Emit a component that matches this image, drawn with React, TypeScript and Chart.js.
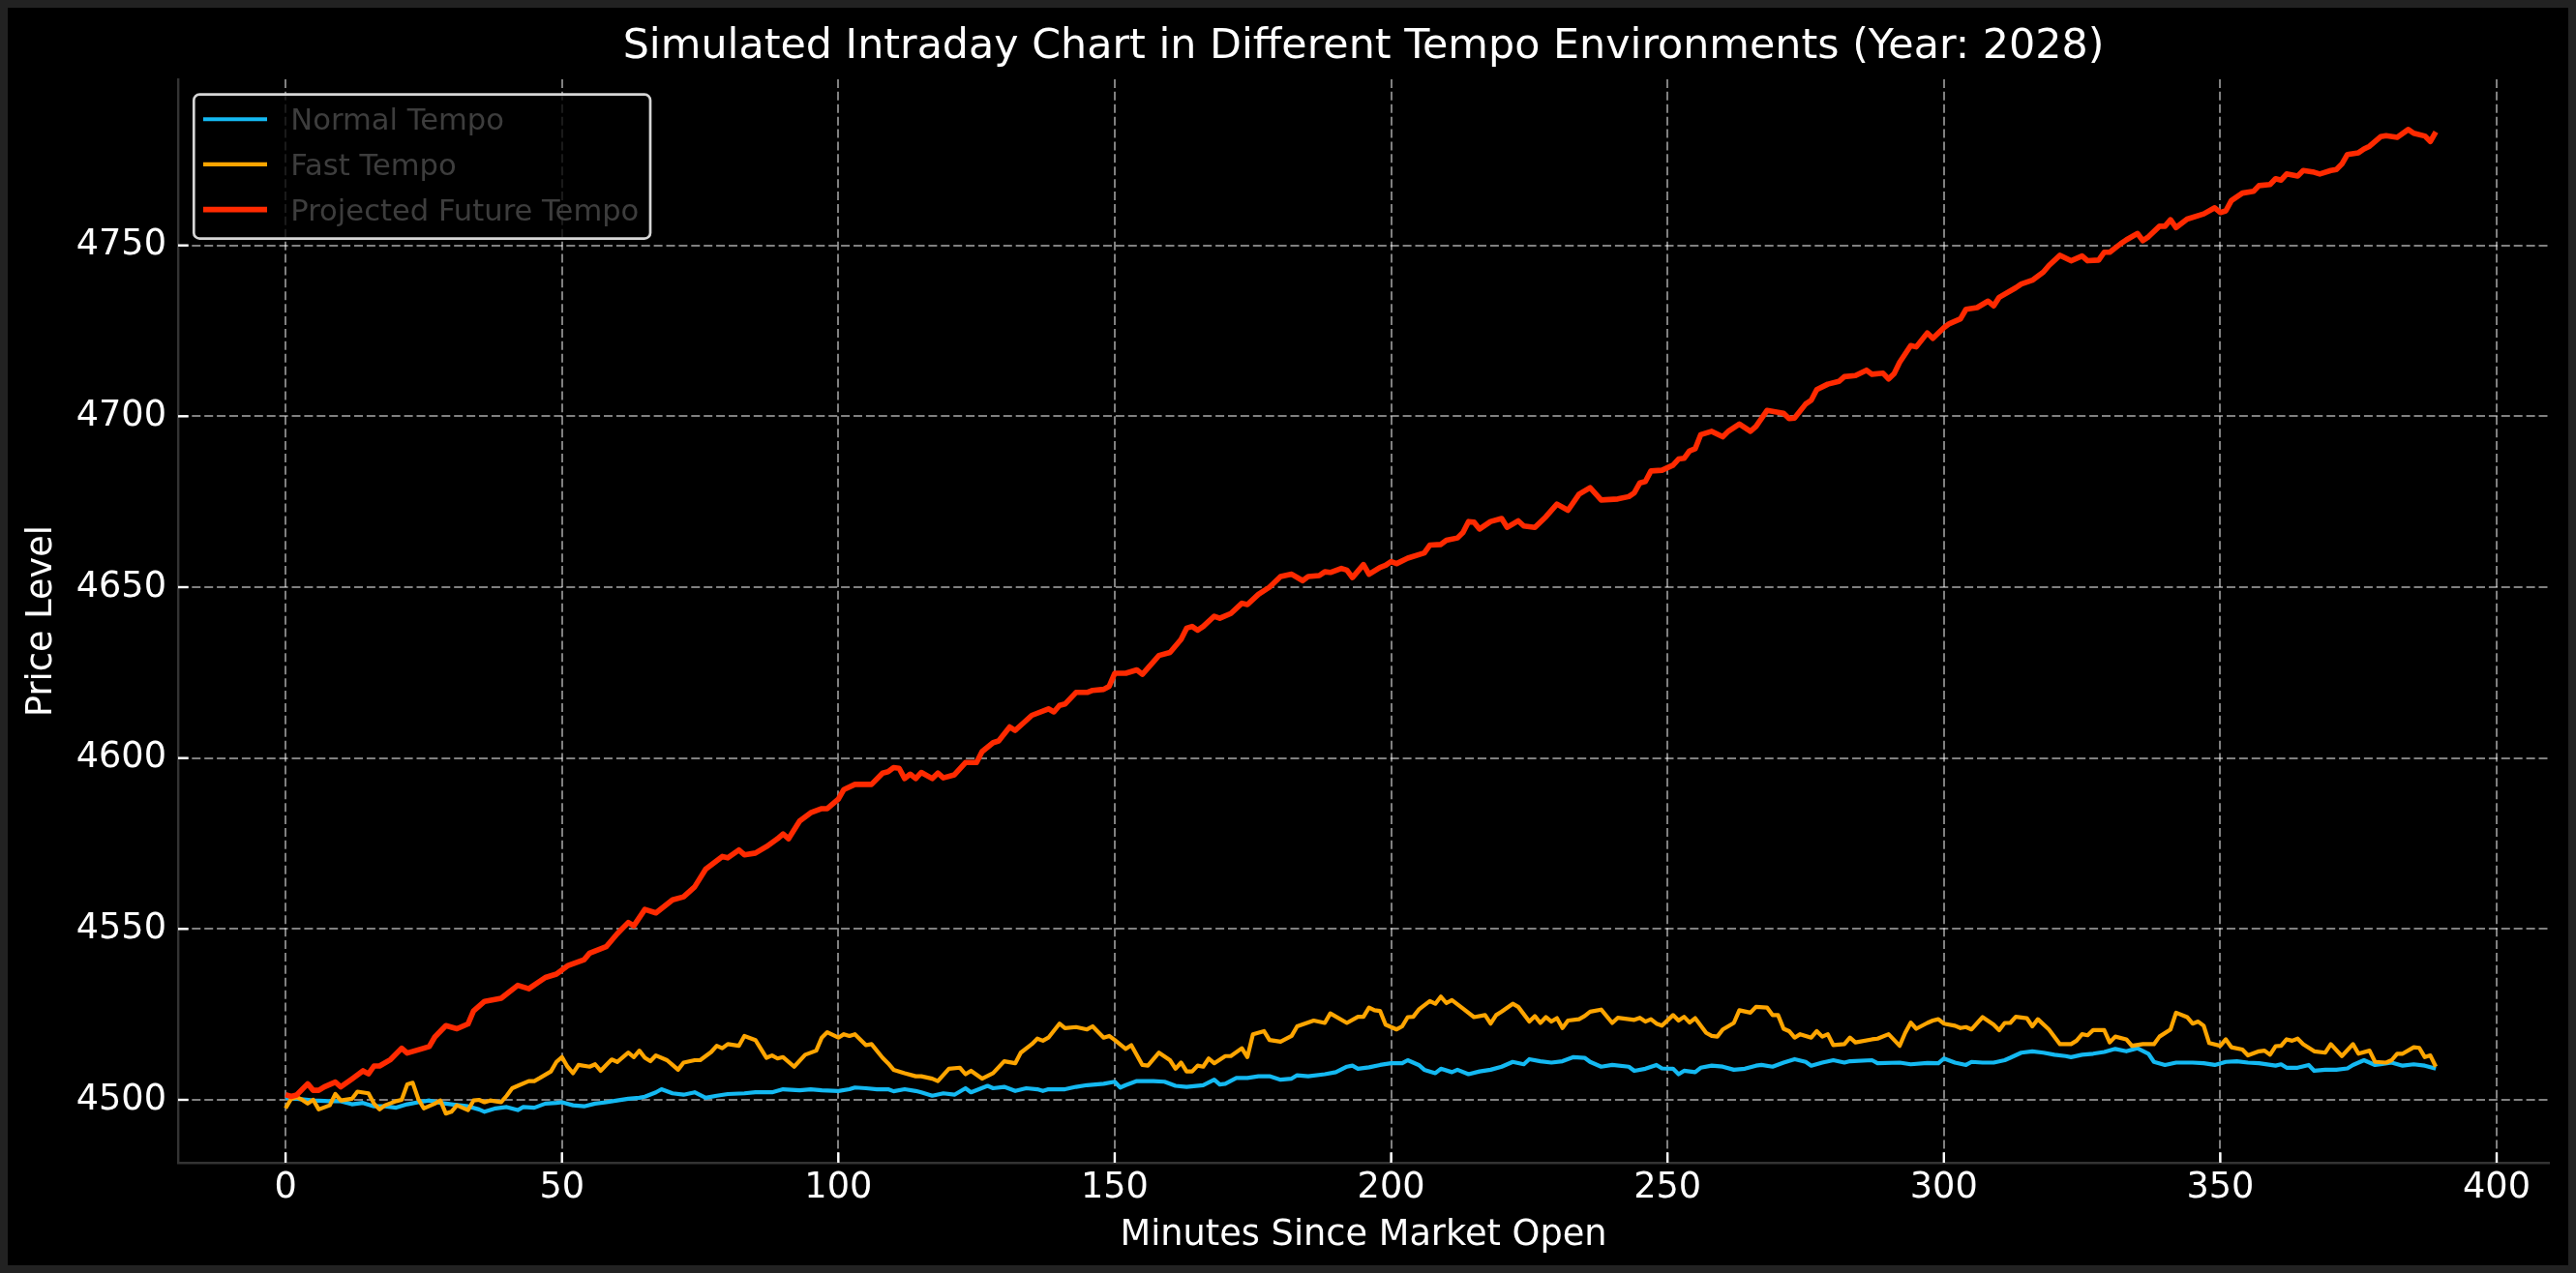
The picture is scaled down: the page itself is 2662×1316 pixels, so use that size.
import React, { useEffect, useRef } from "react";
import { Chart, registerables } from "chart.js";

Chart.register(...registerables);

const chartTitle = "Simulated Intraday Chart in Different Tempo Environments (Year: 2028)";
const xAxisTitle = "Minutes Since Market Open";
const yAxisTitle = "Price Level";
const seriesLabels = ["Normal Tempo", "Fast Tempo", "Projected Future Tempo"];
const seriesColors = ["#14b9f2", "#ffa500", "#ff2a00"];
const xTickValues = [0, 50, 100, 150, 200, 250, 300, 350, 400];
const yTickValues = [4500, 4550, 4600, 4650, 4700, 4750];
const xRange = [-19.45, 409.45];
const yRange = [4481.6, 4798.6];

// [minute, price]
const normalTempo: number[][] = [
  [0, 4500.6], [2, 4500.3], [5, 4499.8], [8, 4499.6], [10, 4499.6], [12, 4498.7], [14, 4499.1],
  [16, 4498.1], [18, 4498.1], [20, 4497.7], [22, 4498.7], [24, 4499.3], [26, 4499.8], [28, 4499.1],
  [30, 4498.7], [33, 4498.1], [35, 4497.2], [36, 4496.5], [38, 4497.5], [40, 4497.9], [42, 4497.0],
  [43, 4497.9], [45, 4497.7], [47, 4498.9], [49, 4499.1], [50, 4499.3], [52, 4498.4], [54, 4498.1],
  [56, 4498.9], [58, 4499.3], [60, 4499.8], [62, 4500.3], [64, 4500.6], [65, 4500.9], [67, 4502.2],
  [68, 4503.1], [70, 4501.9], [72, 4501.5], [74, 4502.2], [76, 4500.6], [78, 4501.2], [80, 4501.7],
  [83, 4501.9], [85, 4502.2], [88, 4502.2], [90, 4503.1], [93, 4502.8], [95, 4503.1], [97, 4502.8],
  [100, 4502.6], [102, 4503.1], [103, 4503.6], [105, 4503.4], [107, 4503.1], [109, 4503.1], [110, 4502.5],
  [112, 4503.1], [114, 4502.6], [115, 4502.2], [117, 4501.2], [119, 4501.9], [121, 4501.5], [123, 4503.4],
  [124, 4502.2], [127, 4504.1], [128, 4503.4], [130, 4503.8], [132, 4502.6], [134, 4503.4], [136, 4503.1],
  [137, 4502.6], [138, 4503.1], [141, 4503.1], [143, 4503.8], [145, 4504.3], [148, 4504.7], [150, 4505.3],
  [151, 4503.6], [152, 4504.3], [154, 4505.5], [157, 4505.5], [159, 4505.3], [161, 4504.1], [163, 4503.8],
  [166, 4504.3], [168, 4505.9], [169, 4504.5], [170, 4504.7], [172, 4506.4], [174, 4506.4], [176, 4506.9],
  [178, 4506.9], [180, 4505.9], [182, 4506.2], [183, 4507.2], [185, 4506.9], [188, 4507.5], [190, 4508.1],
  [192, 4509.7], [193, 4510.0], [194, 4509.1], [196, 4509.5], [198, 4510.2], [200, 4510.7], [202, 4510.7],
  [203, 4511.6], [205, 4510.2], [206, 4508.8], [208, 4507.8], [209, 4509.1], [211, 4508.1], [212, 4508.8],
  [214, 4507.5], [216, 4508.3], [218, 4508.8], [220, 4509.7], [221, 4510.4], [222, 4511.1], [224, 4510.4],
  [225, 4511.9], [227, 4511.3], [229, 4510.9], [231, 4511.3], [233, 4512.5], [235, 4512.3], [236, 4511.1],
  [238, 4509.7], [240, 4510.2], [243, 4509.7], [244, 4508.5], [246, 4509.1], [248, 4510.2], [249, 4509.2],
  [251, 4509.1], [252, 4507.5], [253, 4508.5], [255, 4508.1], [256, 4509.4], [258, 4510.0], [260, 4509.7],
  [262, 4508.8], [264, 4509.1], [266, 4510.0], [267, 4510.2], [269, 4509.7], [271, 4510.9], [273, 4511.9],
  [275, 4511.1], [276, 4510.0], [278, 4510.9], [280, 4511.6], [282, 4510.9], [283, 4511.3], [287, 4511.6],
  [288, 4510.7], [292, 4510.9], [294, 4510.4], [297, 4510.8], [299, 4510.7], [300, 4512.1], [302, 4510.9],
  [304, 4510.2], [305, 4511.1], [307, 4510.9], [309, 4510.9], [311, 4511.6], [312, 4512.3], [314, 4513.8],
  [316, 4514.2], [318, 4513.8], [320, 4513.2], [322, 4512.8], [323, 4512.5], [325, 4513.2], [327, 4513.5],
  [329, 4514.0], [331, 4514.9], [333, 4514.2], [335, 4515.1], [337, 4513.5], [338, 4511.1], [340, 4510.2],
  [342, 4510.9], [345, 4510.9], [347, 4510.7], [349, 4510.2], [351, 4511.1], [353, 4511.3], [355, 4510.9],
  [357, 4510.7], [360, 4510.0], [361, 4510.4], [362, 4509.4], [364, 4509.4], [366, 4510.2], [367, 4508.5],
  [369, 4508.8], [371, 4508.8], [373, 4509.2], [374, 4510.2], [376, 4511.6], [378, 4510.2], [379, 4510.4],
  [381, 4510.9], [383, 4510.0], [385, 4510.4], [387, 4510.0], [389, 4509.1],
];

const fastTempo: number[][] = [
  [0, 4497.5], [1, 4500.3], [2, 4500.8], [3, 4500.0], [4, 4498.9], [5, 4500.0], [6, 4497.2], [8, 4498.4],
  [9, 4501.7], [10, 4499.8], [12, 4500.3], [13, 4502.4], [15, 4501.9], [16, 4498.9], [17, 4497.2],
  [18, 4498.4], [20, 4499.6], [21, 4500.0], [22, 4504.5], [23, 4505.0], [24, 4500.3], [25, 4497.5],
  [27, 4498.9], [28, 4499.8], [29, 4496.0], [30, 4496.5], [31, 4498.4], [33, 4497.0], [34, 4499.8],
  [35, 4500.0], [36, 4499.3], [37, 4499.8], [39, 4499.3], [40, 4501.2], [41, 4503.4], [42, 4504.1],
  [44, 4505.5], [45, 4505.5], [46, 4506.4], [48, 4508.3], [49, 4511.1], [50, 4512.5], [51, 4509.7],
  [52, 4507.8], [53, 4510.2], [55, 4509.7], [56, 4510.4], [57, 4508.5], [58, 4510.2], [59, 4511.8],
  [60, 4511.1], [62, 4513.8], [63, 4512.5], [64, 4514.4], [65, 4512.3], [66, 4511.3], [67, 4513.0],
  [69, 4511.6], [70, 4510.2], [71, 4508.8], [72, 4510.9], [74, 4511.6], [75, 4511.6], [77, 4514.0],
  [78, 4515.8], [79, 4515.1], [80, 4516.3], [82, 4515.8], [83, 4518.7], [85, 4517.5], [87, 4512.3],
  [88, 4513.0], [89, 4512.1], [90, 4512.5], [92, 4509.7], [94, 4513.2], [96, 4514.4], [97, 4518.2],
  [98, 4519.8], [100, 4518.2], [101, 4519.2], [102, 4518.7], [103, 4519.2], [105, 4516.0], [106, 4516.3],
  [108, 4512.3], [109, 4510.7], [110, 4508.8], [112, 4507.8], [114, 4506.9], [115, 4506.9], [117, 4506.2],
  [118, 4505.5], [120, 4509.1], [122, 4509.4], [123, 4507.5], [124, 4508.5], [126, 4506.2], [128, 4507.8],
  [130, 4511.3], [132, 4510.7], [133, 4513.8], [135, 4516.3], [136, 4517.9], [137, 4517.3], [138, 4518.2],
  [140, 4522.3], [141, 4521.0], [143, 4521.3], [145, 4520.6], [146, 4521.5], [148, 4518.2], [149, 4518.7],
  [150, 4517.5], [152, 4514.9], [153, 4516.0], [155, 4510.2], [156, 4510.0], [158, 4513.8], [160, 4511.6],
  [161, 4509.1], [162, 4510.9], [163, 4508.3], [164, 4508.3], [165, 4510.0], [166, 4509.7], [167, 4512.1],
  [168, 4510.7], [170, 4512.8], [171, 4512.8], [173, 4515.1], [174, 4512.5], [175, 4519.2], [177, 4520.1],
  [178, 4517.5], [180, 4517.0], [182, 4518.7], [183, 4521.5], [186, 4523.2], [188, 4522.5], [189, 4525.3],
  [192, 4522.5], [194, 4524.3], [195, 4524.3], [196, 4527.0], [197, 4526.2], [198, 4526.0], [199, 4522.0],
  [201, 4520.6], [202, 4521.5], [203, 4524.2], [204, 4524.3], [205, 4526.4], [207, 4528.9], [208, 4528.1],
  [209, 4530.2], [210, 4528.3], [211, 4529.2], [213, 4526.7], [215, 4524.2], [217, 4524.8], [218, 4522.3],
  [219, 4524.8], [220, 4525.8], [222, 4528.1], [223, 4527.2], [225, 4522.9], [226, 4524.5], [227, 4522.5],
  [228, 4524.2], [229, 4522.9], [230, 4523.9], [231, 4521.0], [232, 4523.2], [234, 4523.6], [235, 4524.5],
  [236, 4525.8], [238, 4526.4], [240, 4522.5], [241, 4524.0], [244, 4523.4], [245, 4524.0], [246, 4522.9],
  [247, 4523.6], [248, 4522.3], [249, 4521.7], [251, 4524.8], [252, 4523.2], [253, 4524.3], [254, 4522.6],
  [255, 4523.9], [257, 4519.6], [258, 4518.7], [259, 4518.5], [260, 4520.6], [262, 4522.5], [263, 4526.2],
  [265, 4525.5], [266, 4527.2], [268, 4527.0], [269, 4524.8], [270, 4524.8], [271, 4520.8], [272, 4520.1],
  [273, 4518.2], [274, 4519.2], [276, 4518.2], [277, 4520.1], [278, 4518.5], [279, 4519.2], [280, 4516.0],
  [282, 4516.3], [283, 4518.2], [284, 4516.8], [287, 4517.7], [288, 4517.9], [290, 4519.2], [292, 4515.8],
  [293, 4519.6], [294, 4522.6], [295, 4520.8], [297, 4522.5], [298, 4523.2], [299, 4523.6], [300, 4522.3],
  [302, 4521.7], [303, 4521.0], [304, 4521.3], [305, 4520.6], [307, 4524.2], [309, 4522.0], [310, 4520.4],
  [311, 4522.5], [312, 4522.5], [313, 4524.3], [315, 4523.9], [316, 4521.5], [317, 4523.6], [319, 4520.6],
  [321, 4516.3], [323, 4516.3], [324, 4517.3], [325, 4519.2], [326, 4518.9], [327, 4520.4], [329, 4520.4],
  [330, 4516.8], [331, 4518.5], [333, 4517.7], [334, 4515.8], [336, 4516.3], [338, 4516.3], [339, 4518.5],
  [341, 4520.6], [342, 4525.5], [344, 4524.2], [345, 4522.3], [346, 4522.9], [347, 4521.7], [348, 4516.6],
  [350, 4515.8], [351, 4517.7], [352, 4515.4], [354, 4514.7], [355, 4513.0], [357, 4514.2], [358, 4514.4],
  [359, 4513.2], [360, 4515.7], [361, 4515.8], [362, 4517.7], [363, 4517.3], [364, 4517.9], [365, 4516.3],
  [367, 4514.2], [369, 4513.8], [370, 4516.3], [372, 4512.8], [374, 4516.3], [375, 4513.5], [377, 4514.4],
  [378, 4511.1], [380, 4510.9], [381, 4511.6], [382, 4513.5], [383, 4513.5], [385, 4515.4], [386, 4515.2],
  [387, 4512.5], [388, 4513.0], [389, 4509.7],
];

const futureTempo: number[][] = [
  [0, 4501.5], [1, 4501.0], [2, 4501.4], [4, 4504.7], [5, 4502.8], [6, 4502.8], [7, 4503.8], [9, 4505.2],
  [10, 4503.8], [12, 4506.1], [14, 4508.5], [15, 4507.6], [16, 4509.9], [17, 4509.9], [19, 4511.8],
  [21, 4515.1], [22, 4513.7], [25, 4515.1], [26, 4515.6], [27, 4518.4], [29, 4521.7], [31, 4520.8],
  [33, 4522.2], [34, 4526.0], [36, 4528.8], [39, 4529.7], [42, 4533.5], [44, 4532.5], [47, 4535.8],
  [49, 4536.8], [51, 4539.2], [54, 4541.0], [55, 4542.9], [58, 4544.8], [60, 4548.6], [62, 4551.9],
  [63, 4550.9], [65, 4555.7], [67, 4554.7], [70, 4558.5], [72, 4559.4], [74, 4562.3], [76, 4567.5],
  [79, 4571.2], [80, 4570.8], [82, 4573.1], [83, 4571.7], [85, 4572.2], [87, 4574.1], [89, 4576.4],
  [90, 4577.8], [91, 4576.4], [93, 4581.6], [95, 4584.0], [97, 4585.2], [98, 4585.2], [100, 4588.0],
  [101, 4590.8], [103, 4592.3], [106, 4592.3], [108, 4595.6], [109, 4596.0], [110, 4597.2], [111, 4597.0],
  [112, 4594.0], [113, 4595.3], [114, 4594.0], [115, 4595.8], [117, 4594.0], [118, 4595.6], [119, 4594.2],
  [121, 4595.1], [123, 4598.7], [125, 4598.7], [126, 4601.9], [128, 4604.5], [129, 4605.0], [131, 4609.1],
  [132, 4608.1], [135, 4612.5], [138, 4614.4], [139, 4613.5], [140, 4615.4], [141, 4615.8], [143, 4619.2],
  [145, 4619.2], [146, 4619.8], [148, 4620.1], [149, 4621.0], [150, 4624.8], [152, 4624.8], [154, 4625.8],
  [155, 4624.5], [158, 4630.0], [160, 4630.9], [161, 4632.8], [162, 4634.7], [163, 4638.0], [164, 4638.5],
  [165, 4637.4], [166, 4638.5], [168, 4641.5], [169, 4640.9], [171, 4642.3], [173, 4645.3], [174, 4644.9],
  [176, 4647.9], [178, 4650.0], [180, 4653.1], [182, 4653.8], [184, 4651.9], [185, 4653.1], [187, 4653.4],
  [188, 4654.5], [189, 4654.3], [191, 4655.5], [192, 4655.0], [193, 4652.8], [195, 4656.6], [196, 4653.8],
  [198, 4655.8], [199, 4656.4], [200, 4657.5], [201, 4656.9], [203, 4658.5], [206, 4660.0], [207, 4662.3],
  [209, 4662.5], [210, 4663.7], [212, 4664.4], [213, 4666.0], [214, 4669.2], [215, 4669.0], [216, 4667.0],
  [218, 4669.2], [220, 4670.1], [221, 4667.5], [223, 4669.4], [224, 4667.9], [226, 4667.5], [228, 4670.6],
  [230, 4674.3], [232, 4672.5], [234, 4677.2], [236, 4679.1], [238, 4675.5], [241, 4675.8], [243, 4676.5],
  [244, 4677.6], [245, 4680.5], [246, 4680.9], [247, 4684.0], [249, 4684.2], [251, 4685.7], [252, 4687.5],
  [253, 4687.7], [254, 4689.9], [255, 4690.5], [256, 4694.6], [258, 4695.6], [260, 4694.0], [261, 4695.6],
  [263, 4697.7], [265, 4695.6], [266, 4697.0], [268, 4701.7], [271, 4700.9], [272, 4699.3], [273, 4699.5],
  [275, 4703.6], [276, 4704.7], [277, 4707.8], [279, 4709.4], [281, 4710.2], [282, 4711.6], [284, 4711.9],
  [286, 4713.5], [287, 4712.3], [289, 4712.6], [290, 4710.9], [291, 4712.5], [292, 4715.8], [294, 4720.7],
  [295, 4720.3], [297, 4724.4], [298, 4722.8], [300, 4725.9], [301, 4727.1], [303, 4728.5], [304, 4731.3],
  [306, 4731.8], [308, 4733.7], [309, 4732.3], [310, 4734.8], [313, 4737.6], [314, 4738.7], [316, 4739.8],
  [318, 4742.2], [319, 4744.1], [321, 4747.1], [323, 4745.5], [325, 4746.9], [326, 4745.5], [328, 4745.7],
  [329, 4748.0], [330, 4748.0], [332, 4750.5], [333, 4751.6], [335, 4753.5], [336, 4751.4], [337, 4752.5],
  [339, 4755.6], [340, 4755.6], [341, 4757.5], [342, 4755.2], [344, 4757.7], [347, 4759.2], [349, 4761.0],
  [350, 4759.6], [351, 4760.1], [352, 4763.1], [354, 4765.3], [356, 4765.8], [357, 4767.5], [359, 4767.8],
  [360, 4769.5], [361, 4769.1], [362, 4770.9], [364, 4770.3], [365, 4771.9], [367, 4771.4], [368, 4770.9],
  [370, 4771.9], [371, 4772.2], [372, 4773.8], [373, 4776.6], [375, 4777.1], [376, 4778.2], [377, 4779.0],
  [379, 4781.8], [380, 4782.1], [382, 4781.6], [384, 4783.9], [385, 4782.8], [387, 4782.0], [388, 4780.4],
  [389, 4783.2],
];

const FONT = "'DejaVu Sans', sans-serif";
const CANVAS_W = 2646;
const CANVAS_H = 1300;

const toPoints = (arr: number[][]) => arr.map(([x, y]) => ({ x, y }));

const decorPlugin = {
  id: "decor",
  afterDatasetsDraw(chart: any) {
    const { ctx, chartArea, scales } = chart;
    ctx.save();
    ctx.setLineDash([]);
    ctx.strokeStyle = "#ffffff";
    ctx.lineWidth = 2.4;
    const len = 10.7;
    xTickValues.forEach((v) => {
      const x = scales.x.getPixelForValue(v);
      ctx.beginPath();
      ctx.moveTo(x, chartArea.bottom);
      ctx.lineTo(x, chartArea.bottom - len);
      ctx.stroke();
    });
    yTickValues.forEach((v) => {
      const y = scales.y.getPixelForValue(v);
      ctx.beginPath();
      ctx.moveTo(chartArea.left, y);
      ctx.lineTo(chartArea.left + len, y);
      ctx.stroke();
    });
    ctx.restore();
  },
  afterDraw(chart: any) {
    const { ctx, chartArea } = chart;
    const bx = chartArea.left + 16.3;
    const by = chartArea.top + 15.7;
    const bw = 471.7;
    const bh = 149;
    ctx.save();
    ctx.setLineDash([]);
    ctx.beginPath();
    ctx.roundRect(bx, by, bw, bh, 6);
    ctx.fillStyle = "rgba(0,0,0,0.8)";
    ctx.fill();
    ctx.lineWidth = 2.7;
    ctx.strokeStyle = "#d6d6d6";
    ctx.stroke();
    const rowH = 46.7;
    chart.data.datasets.forEach((ds: any, i: number) => {
      const cy = by + 25.6 + i * rowH;
      ctx.beginPath();
      ctx.strokeStyle = ds.borderColor;
      ctx.lineWidth = ds.borderWidth;
      ctx.lineCap = "butt";
      ctx.moveTo(bx + 9.7, cy);
      ctx.lineTo(bx + 75.7, cy);
      ctx.stroke();
      ctx.fillStyle = "#3d3d3d";
      ctx.font = `30.6px ${FONT}`;
      ctx.textBaseline = "alphabetic";
      ctx.textAlign = "left";
      ctx.fillText(ds.label, bx + 100, cy + 11);
    });
    ctx.restore();
  },
};

export default function App() {
  const canvasRef = useRef<HTMLCanvasElement | null>(null);

  useEffect(() => {
    document.body.style.background = "#222222";
    const canvas = canvasRef.current;
    if (!canvas) return;
    const gridColor = "rgba(255,255,255,0.5)";
    const chart = new Chart(canvas, {
      type: "line",
      data: {
        datasets: [
          {
            label: seriesLabels[0],
            data: toPoints(normalTempo),
            borderColor: seriesColors[0],
            backgroundColor: seriesColors[0],
            borderWidth: 4.2,
            pointRadius: 0,
            tension: 0,
            order: 3,
            borderJoinStyle: "round",
          },
          {
            label: seriesLabels[1],
            data: toPoints(fastTempo),
            borderColor: seriesColors[1],
            backgroundColor: seriesColors[1],
            borderWidth: 4.2,
            pointRadius: 0,
            tension: 0,
            order: 2,
            borderJoinStyle: "round",
          },
          {
            label: seriesLabels[2],
            data: toPoints(futureTempo),
            borderColor: seriesColors[2],
            backgroundColor: seriesColors[2],
            borderWidth: 5.6,
            pointRadius: 0,
            tension: 0,
            order: 1,
            borderJoinStyle: "round",
          },
        ],
      },
      options: {
        animation: false,
        responsive: false,
        devicePixelRatio: 1,
        parsing: false,
        normalized: true,
        layout: { padding: { left: 0, right: 20, top: 0, bottom: 0 } },
        plugins: {
          legend: { display: false },
          tooltip: { enabled: false },
          title: {
            display: true,
            fullSize: false,
            text: chartTitle,
            color: "#ffffff",
            font: { family: FONT, size: 42.8, weight: "normal", lineHeight: 1.2 },
            padding: { top: 15.5, bottom: 7.1 },
          },
        },
        scales: {
          x: {
            type: "linear",
            min: xRange[0],
            max: xRange[1],
            afterBuildTicks: (s: any) => {
              s.ticks = xTickValues.map((v) => ({ value: v }));
            },
            afterFit: (s: any) => {
              s.height = 106;
            },
            ticks: {
              color: "#ffffff",
              font: { family: FONT, size: 36.7 },
              padding: 4,
              maxRotation: 0,
              autoSkip: false,
              callback: (v: any) => String(v),
            },
            grid: { color: gridColor, lineWidth: 2, drawTicks: false },
            border: { display: true, color: "#333333", width: 2.4, dash: [9, 3.9] },
            title: {
              display: true,
              text: xAxisTitle,
              color: "#ffffff",
              font: { family: FONT, size: 36.7, lineHeight: 1.2 },
              padding: { top: 0, bottom: 8.8 },
            },
          },
          y: {
            type: "linear",
            min: yRange[0],
            max: yRange[1],
            afterBuildTicks: (s: any) => {
              s.ticks = yTickValues.map((v) => ({ value: v }));
            },
            afterFit: (s: any) => {
              s.width = 176;
            },
            ticks: {
              color: "#ffffff",
              font: { family: FONT, size: 36.7 },
              padding: 12,
              autoSkip: false,
              callback: (v: any) => String(v),
            },
            grid: { color: gridColor, lineWidth: 2, drawTicks: false },
            border: { display: true, color: "#333333", width: 2.4, dash: [9, 3.9] },
            title: {
              display: true,
              text: yAxisTitle,
              color: "#ffffff",
              font: { family: FONT, size: 36.7, lineHeight: 1.2 },
              padding: { top: 13.8, bottom: 0 },
            },
          },
        },
      },
      plugins: [decorPlugin],
    } as any);
    return () => chart.destroy();
  }, []);

  return (
    <canvas
      ref={canvasRef}
      width={CANVAS_W}
      height={CANVAS_H}
      style={{ display: "block", width: CANVAS_W, height: CANVAS_H, background: "#000000" }}
    />
  );
}
